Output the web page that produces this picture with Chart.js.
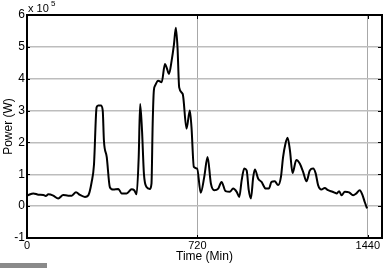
<!DOCTYPE html>
<html><head><meta charset="utf-8">
<script src="https://cdn.jsdelivr.net/npm/chart.js@4"></script>
<style>html,body{margin:0;padding:0;background:#fff;}#wrap{width:388px;height:268px;position:relative;}</style>
</head><body><div id="wrap"><canvas id="c" width="388" height="268"></canvas></div>
<script>
const timeMin = [3,27,48,69,79,90,111,132,153,174,189,207,224,245,259,273,283,294,301,312,320,325,337,350,364,386,400,421,442,453,463,472,478,486,494,505,519,526,531,536,541,554,569,583,590,600,611,621,629,636,643,658,674,688,695,705,719,734,749,763,777,791,808,822,839,857,871,886,897,907,918,928,937,946,956,963,977,991,1009,1022,1033,1047,1061,1073,1082,1092,1101,1111,1122,1138,1153,1167,1181,1195,1209,1220,1230,1244,1258,1272,1291,1308,1319,1329,1343,1361,1378,1392,1406,1418,1427,1437];
const powerE5 = [0.34,0.40,0.36,0.35,0.32,0.37,0.33,0.24,0.35,0.33,0.33,0.44,0.35,0.29,0.34,0.75,1.3,3.10,3.16,3.16,3.0,2.06,1.54,0.60,0.52,0.54,0.40,0.40,0.53,0.50,0.37,1.54,3.21,2.37,1.02,0.60,0.54,0.71,2.58,3.63,3.78,3.94,3.89,4.46,4.35,4.15,4.56,5.08,5.60,4.98,3.73,3.52,2.43,3.0,2.48,1.23,1.18,0.42,0.92,1.54,0.71,0.50,0.55,0.76,0.47,0.45,0.55,0.45,0.29,0.81,1.18,1.12,0.50,0.24,0.92,1.15,0.86,0.76,0.55,0.55,0.76,0.78,0.66,0.92,1.54,1.96,2.15,1.75,1.04,1.45,1.33,1.07,0.78,1.12,1.18,1.02,0.66,0.52,0.57,0.50,0.45,0.40,0.47,0.34,0.45,0.43,0.34,0.40,0.50,0.34,0.13,-0.07];
const xTicks = [0,720,1440];
const yTicks = [-1,0,1,2,3,4,5,6];
const xTitle = 'Time (Min)';
const yTitle = 'Power (W)';
const FONT = '"Liberation Sans", Arial, sans-serif';

const framePlugin = {
  id:'frame',
  afterDatasetsDraw(chart){
    const {ctx, chartArea:a, scales} = chart;
    ctx.save();
    ctx.strokeStyle='#000'; ctx.lineWidth=2;
    ctx.strokeRect(a.left, a.top, a.right-a.left, a.bottom-a.top);
    ctx.lineWidth=1;
    ctx.beginPath();
    yTicks.forEach(v=>{const y=Math.round(scales.y.getPixelForValue(v))+0.5; ctx.moveTo(a.right-4,y); ctx.lineTo(a.right,y); ctx.moveTo(a.left,y); ctx.lineTo(a.left+3,y);});
    xTicks.forEach(v=>{const x=Math.round(scales.x.getPixelForValue(v))+0.5; ctx.moveTo(x,a.top); ctx.lineTo(x,a.top+4); ctx.moveTo(x,a.bottom); ctx.lineTo(x,a.bottom-3);});
    ctx.stroke();
    ctx.fillStyle='#000';
    ctx.font='12px '+FONT;
    ctx.textAlign='center'; ctx.textBaseline='middle';
    ctx.fillText(xTitle, (a.left+a.right)/2, 257);
    ctx.save(); ctx.translate(9,(a.top+a.bottom)/2); ctx.rotate(-Math.PI/2); ctx.fillText(yTitle,0,0); ctx.restore();
    ctx.textAlign='left'; ctx.textBaseline='alphabetic';
    ctx.font='11px '+FONT;
    ctx.fillText('x 10', a.left+1, 12);
    ctx.font='8px '+FONT;
    ctx.fillText('5', a.left+24, 6);
    ctx.fillStyle='#8a8a8a';
    ctx.fillRect(0,263,47,5);
    ctx.restore();
  }
};

new Chart(document.getElementById('c'), {
  type:'line',
  data:{datasets:[{data: timeMin.map((t,i)=>({x:t,y:powerE5[i]})), borderColor:'#000', borderWidth:2, pointRadius:0, cubicInterpolationMode:'monotone', fill:false}]},
  options:{
    responsive:false, animation:false, devicePixelRatio:1,
    layout:{padding:{top:15,right:6,left:0,bottom:0}},
    plugins:{legend:{display:false}, tooltip:{enabled:false}},
    scales:{
      x:{type:'linear', min:0, max:1500,
         afterBuildTicks(s){ s.ticks = xTicks.map(v=>({value:v})); },
         afterFit(s){ s.height = 30; },
         grid:{color:(c)=> c.tick && c.tick.value===0 ? 'rgba(0,0,0,0)' : '#a8a8a8', lineWidth:1, drawTicks:false},
         border:{display:true,color:'#000',width:2},
         ticks:{color:'#000', font:{family:FONT,size:11}, padding:1, maxRotation:0, callback:(v)=>String(v)}},
      y:{type:'linear', min:-1, max:6,
         afterBuildTicks(s){ s.ticks = yTicks.map(v=>({value:v})); },
         afterFit(s){ s.width = 27; },
         grid:{color:'#bdbdbd', lineWidth:1.5, drawTicks:false},
         border:{display:true,color:'#000',width:2},
         ticks:{color:'#000', font:{family:FONT,size:12}, padding:2, callback:(v)=>String(v)}}
    }
  },
  plugins:[framePlugin]
});
</script></body></html>
